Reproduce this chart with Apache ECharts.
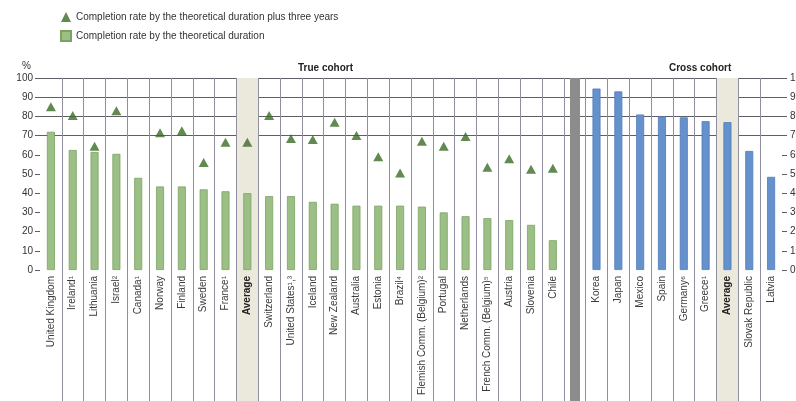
<!DOCTYPE html>
<html>
<head>
<meta charset="utf-8">
<script src="https://cdn.jsdelivr.net/npm/echarts@6/dist/echarts.min.js"></script>
<style>
  html, body { margin: 0; padding: 0; background: #ffffff; }
  #chart { width: 796px; height: 401px; }
</style>
</head>
<body>
<div id="chart"></div>
<script>
// Countries measured on a true cohort basis
const trueCohortCountries = [
  'United Kingdom', 'Ireland¹', 'Lithuania', 'Israel²', 'Canada¹', 'Norway',
  'Finland', 'Sweden', 'France¹', 'Average', 'Switzerland', 'United States¹,³',
  'Iceland', 'New Zealand', 'Australia', 'Estonia', 'Brazil⁴',
  'Flemish Comm. (Belgium)²', 'Portugal', 'Netherlands',
  'French Comm. (Belgium)⁵', 'Austria', 'Slovenia', 'Chile'
];
// Completion rate by the theoretical duration (%)
const trueCohortTheoretical = [
  72, 62.5, 61.5, 60.5, 48, 43.5, 43.5, 42, 41, 40, 38.5, 38.5,
  35.5, 34.5, 33.5, 33.5, 33.5, 33, 30, 28, 27, 26, 23.5, 15.5
];
// Completion rate by the theoretical duration plus three years (%)
const trueCohortPlusThree = [
  85, 80.5, 64.5, 83, null, 71.5, 72.5, 56, 66.5, 66.5, 80.5, 68.5,
  68, 77, 70, 59, 50.5, 67, 64.5, 69.5, 53.5, 58, 52.5, 53
];

// Countries measured on a cross cohort basis
const crossCohortCountries = [
  'Korea', 'Japan', 'Mexico', 'Spain', 'Germany⁶', 'Greece¹',
  'Average', 'Slovak Republic', 'Latvia'
];
const crossCohortTheoretical = [94.5, 93, 81, 80, 79.5, 77.5, 77, 62, 48.5];

// Value axis tick labels
const percentTicks = [0, 10, 20, 30, 40, 50, 60, 70, 80, 90, 100];

const SERIES_PLUS3 = 'Completion rate by the theoretical duration plus three years';
const SERIES_THEO = 'Completion rate by the theoretical duration';

// One empty slot separates the two groups
const separatorIndex = trueCohortCountries.length;
const categories = trueCohortCountries.concat([''], crossCohortCountries);

const pad = (n) => new Array(n).fill(null);
const greenData = trueCohortTheoretical.concat(pad(1 + crossCohortCountries.length));
const triangleData = trueCohortPlusThree.concat(pad(1 + crossCohortCountries.length));
const blueData = pad(separatorIndex + 1).concat(crossCohortTheoretical);

// Value axis runs below zero so the column grid continues behind the rotated labels
const Y_MIN = -70, Y_MAX = 100, Y_STEP = 10;
const GRID_TOP = 78, PX_PER_UNIT = 1.92;
const gridHeight = (Y_MAX - Y_MIN) * PX_PER_UNIT;
const zeroOffset = -(-Y_MIN * PX_PER_UNIT);   // lift the category axis up to the zero line

const H_LINE = '#5e5e66';
const V_LINE = '#918ea0';
const gridLineColors = [];
for (let v = Y_MIN; v <= Y_MAX; v += Y_STEP) {
  gridLineColors.push(v >= 0 ? H_LINE : 'rgba(0,0,0,0)');
}
const columnShades = categories.map(c => c === 'Average' ? '#ebe8dc' : 'rgba(0,0,0,0)');

const FONT = '"Liberation Sans", Arial, sans-serif';

const valueAxis = (position, margin) => ({
  type: 'value',
  position: position,
  min: Y_MIN, max: Y_MAX, interval: Y_STEP,
  axisLine: { show: false },
  axisTick: { show: true, length: 5, customValues: percentTicks, lineStyle: { color: H_LINE, width: 1 } },
  axisLabel: { customValues: percentTicks, fontSize: 10, color: '#333', margin: margin, fontFamily: FONT },
  splitLine: { show: false }
});

const leftAxis = valueAxis('left', 7);
leftAxis.splitLine = { show: true, lineStyle: { color: gridLineColors, width: 1 } };
const rightAxis = valueAxis('right', 8);

const chart = echarts.init(document.getElementById('chart'), null, { renderer: 'canvas' });

chart.setOption({
  animation: false,
  backgroundColor: '#ffffff',
  textStyle: { fontFamily: FONT },
  title: [
    { text: '%', left: 17, top: 56, textStyle: { fontSize: 10, fontWeight: 'normal', color: '#333', fontFamily: FONT } },
    { text: 'True cohort', left: 293, top: 58, textStyle: { fontSize: 10, fontWeight: 'bold', color: '#222', fontFamily: FONT } },
    { text: 'Cross cohort', left: 664, top: 58, textStyle: { fontSize: 10, fontWeight: 'bold', color: '#222', fontFamily: FONT } }
  ],
  legend: {
    orient: 'vertical',
    left: 55,
    top: 7,
    itemWidth: 10,
    itemHeight: 10,
    itemGap: 8,
    selectedMode: false,
    textStyle: { fontSize: 10, color: '#333', fontFamily: FONT },
    data: [
      { name: SERIES_PLUS3, icon: 'triangle' },
      { name: SERIES_THEO, icon: 'rect' }
    ]
  },
  grid: { left: 40, right: 14, top: GRID_TOP, height: gridHeight, outerBoundsMode: 'none', containLabel: false },
  xAxis: {
    type: 'category',
    data: categories,
    boundaryGap: true,
    position: 'bottom',
    offset: zeroOffset,
    axisLine: { show: false, onZero: false },
    axisTick: { show: false },
    axisLabel: {
      interval: 0,
      rotate: 90,
      margin: 6,
      fontSize: 10,
      color: '#3a3a3a',
      fontFamily: FONT,
      formatter: (v) => v === 'Average' ? '{b|Average}' : v,
      rich: { b: { fontWeight: 'bold', fontSize: 10, color: '#222', fontFamily: FONT } }
    },
    splitLine: { show: true, interval: 0, showMinLine: false, showMaxLine: false, lineStyle: { color: V_LINE, width: 1 } },
    splitArea: { show: true, interval: 0, areaStyle: { color: columnShades } }
  },
  yAxis: [leftAxis, rightAxis],
  series: [
    {
      name: SERIES_THEO,
      type: 'bar',
      data: greenData,
      barWidth: 8,
      barGap: '-100%',
      clip: false,
      itemStyle: { color: '#9cbf85', borderColor: '#7aa263', borderWidth: 0.8 },
      markLine: {
        silent: true,
        symbol: ['none', 'none'],
        label: { show: false },
        lineStyle: { color: '#8c8c8c', width: 10, type: 'solid', cap: 'butt' },
        data: [
          { xAxis: separatorIndex },
          [
            { coord: [separatorIndex, Y_MAX], lineStyle: { color: '#f0923a', width: 10, type: 'solid' } },
            { coord: [separatorIndex, Y_MAX + 4.5] }
          ]
        ]
      }
    },
    {
      name: 'Cross cohort',
      type: 'bar',
      data: blueData,
      barWidth: 8,
      barGap: '-100%',
      itemStyle: { color: '#6592cc', borderColor: '#4f7cb8', borderWidth: 0.8 }
    },
    {
      name: SERIES_PLUS3,
      type: 'scatter',
      data: triangleData,
      symbol: 'triangle',
      symbolSize: [10, 9],
      z: 5,
      itemStyle: { color: '#3c6b27' }
    }
  ]
});
</script>
</body>
</html>
